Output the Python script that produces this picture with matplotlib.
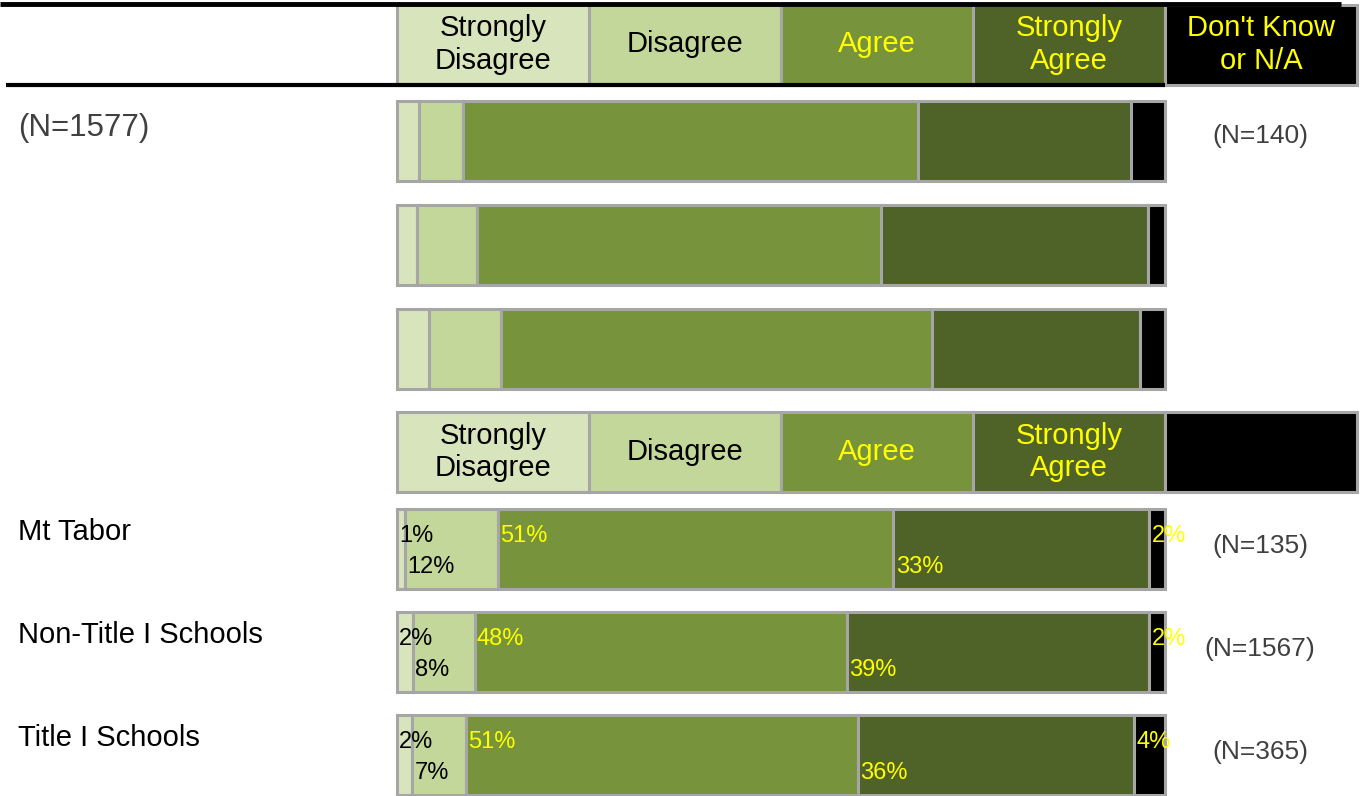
import matplotlib.pyplot as plt
import numpy as np

plt.rcParams['font.family'] = ['Liberation Sans', 'DejaVu Sans']

# categories and colours of the scale
categories = ['Strongly\nDisagree', 'Disagree', 'Agree', 'Strongly\nAgree', "Don't Know\nor N/A"]
colors = ['#d8e4bc', '#c4d79b', '#77933c', '#4f6228', '#000000']
text_colors = ['black', 'black', '#ffff00', '#ffff00', '#ffff00']

# upper block (no percent labels), shares in %
top_values = [
    [2.9, 5.7, 59.2, 27.8, 4.4],
    [2.6, 7.8, 52.6, 34.8, 2.2],
    [4.2, 9.4, 56.1, 27.0, 3.3],
]
top_n_label = '(N=1577)'
top_n_right = '(N=140)'

# lower block (rounded percentages as printed)
groups = ['Mt Tabor', 'Non-Title I Schools', 'Title I Schools']
group_values = [
    [1, 12, 51, 33, 2],
    [2, 8, 48, 39, 2],
    [2, 7, 51, 36, 4],
]
group_n = ['(N=135)', '(N=1567)', '(N=365)']

EDGE = '#a6a6a6'
GREY_TXT = '#404040'
W, H = 1366, 796
X0, X1 = 397, 1165          # pixel span of 0..100 %
scale = (X1 - X0) / 100.0


def main():
    fig = plt.figure(figsize=(W / 100, H / 100), dpi=100)
    ax = fig.add_axes([0, 0, 1, 1])
    ax.set_xlim(-X0 / scale, (W - X0) / scale)
    ax.set_ylim(H, 0)
    ax.axis('off')

    bar_h = 80
    px = lambda p: (p - X0) / scale   # pixel x -> axis units

    def header(yc, with_text_dk):
        lefts = np.arange(5) * 25.0
        for i in range(5):
            ax.barh(yc, 25, left=lefts[i], height=bar_h, color=colors[i],
                    edgecolor=EDGE, linewidth=2.2)
            if i < 4 or with_text_dk:
                ax.text(lefts[i] + 12.5, yc, categories[i], ha='center', va='center',
                        fontsize=21, color=text_colors[i], linespacing=1.2)

    def stacked(yc, vals, labels=False):
        vals = np.asarray(vals, dtype=float)
        widths = vals / vals.sum() * 100      # rounded values, bar filled to 100
        lefts = np.concatenate([[0], np.cumsum(widths)[:-1]])
        ax.barh(yc, widths, left=lefts, height=bar_h, color=colors,
                edgecolor=EDGE, linewidth=2.2)
        if labels:
            for i, (v, l) in enumerate(zip(vals, lefts)):
                dy = -13 if i % 2 == 0 else 18
                ax.text(l + 0.3, yc + dy, f'{v:.0f}%', ha='left', va='center',
                        fontsize=17, color=text_colors[i])

    # top header
    header(44.5, True)
    ax.plot([px(0), px(1341)], [4, 4], color='black', lw=3.5, solid_capstyle='butt')
    ax.plot([px(6), px(1165)], [84.5, 84.5], color='black', lw=3, solid_capstyle='butt')

    # top block
    for k, vals in enumerate(top_values):
        stacked(140.5 + k * 104, vals)
    ax.text(px(18), 128, top_n_label, ha='left', va='center', fontsize=22.5, color=GREY_TXT)
    ax.text(px(1260), 136, top_n_right, ha='center', va='center', fontsize=19, color=GREY_TXT)

    # middle header
    header(452, False)

    # lower block
    for k, (g, vals, n) in enumerate(zip(groups, group_values, group_n)):
        yc = 549 + k * 103
        stacked(yc, vals, labels=True)
        ax.text(px(18), yc - 17, g, ha='left', va='center', fontsize=21, color='black')
        ax.text(px(1260), yc - 3, n, ha='center', va='center', fontsize=19, color=GREY_TXT)

    plt.savefig('out.png', dpi=100)


if __name__ == '__main__':
    main()
